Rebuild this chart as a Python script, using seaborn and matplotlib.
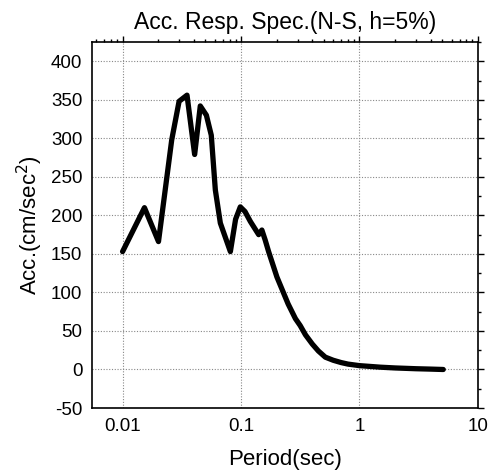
import numpy as np
import pandas as pd
import seaborn as sns
import matplotlib
matplotlib.use('Agg')
import matplotlib.pyplot as plt
from matplotlib.ticker import LogLocator, MultipleLocator, NullFormatter, FixedLocator, FixedFormatter

# period (sec) and spectral acceleration (cm/sec^2)
period = [0.010, 0.0153, 0.0201, 0.0260, 0.0300, 0.0350, 0.0406, 0.0453, 0.0510,
          0.0561, 0.0607, 0.0669, 0.0813, 0.0900, 0.0986, 0.1080, 0.120, 0.141,
          0.150, 0.160, 0.171, 0.201, 0.250, 0.288, 0.316, 0.350, 0.400, 0.450,
          0.515, 0.600, 0.700, 0.800, 1.00, 1.50, 2.00, 3.00, 4.00, 5.10]
acc = [153, 210, 166, 298, 348, 356, 279, 342, 330,
       304, 233, 190, 153, 195, 211, 205, 192, 175,
       181, 168, 153, 120, 85, 66, 57, 45, 33, 24,
       16, 12, 9, 7, 5, 3, 2, 1, 0.5, 0]

df = pd.DataFrame({'Period': period, 'Acc': acc})

sns.set_style('white')
plt.rcParams['font.family'] = ['Liberation Sans', 'DejaVu Sans']
plt.rcParams['axes.unicode_minus'] = False
plt.rcParams['text.color'] = 'black'
plt.rcParams['axes.labelcolor'] = 'black'
plt.rcParams['xtick.color'] = 'black'
plt.rcParams['ytick.color'] = 'black'

fig = plt.figure(figsize=(4.96, 4.75), dpi=100)
ax = fig.add_axes([0.1855, 0.141, 0.778, 0.7706])

sns.lineplot(data=df, x='Period', y='Acc', ax=ax, color='black', lw=3.8,
             solid_joinstyle='round', solid_capstyle='round')

ax.set_xscale('log')
ax.set_xlim(0.00552, 10)
ax.set_ylim(-50, 425)

ax.xaxis.set_major_locator(FixedLocator([0.01, 0.1, 1, 10]))
ax.xaxis.set_major_formatter(FixedFormatter(['0.01', '0.1', '1', '10']))
ax.xaxis.set_minor_locator(LogLocator(base=10, subs=np.arange(2, 10), numticks=20))
ax.xaxis.set_minor_formatter(NullFormatter())
ax.yaxis.set_major_locator(MultipleLocator(50))
ax.yaxis.set_minor_locator(MultipleLocator(25))

ax.grid(True, which='major', color='#888888', linestyle=(0, (1, 1.5)), lw=0.8)
ax.tick_params(which='both', direction='out', top=True, right=True,
               labeltop=False, labelright=False, color='black', width=1)
ax.tick_params(which='major', length=4, labelsize=13.5, pad=3, labelcolor='black')
ax.tick_params(which='minor', length=2)
for s in ax.spines.values():
    s.set_color('black')
    s.set_linewidth(1.2)

ax.set_title('Acc. Resp. Spec.(N-S, h=5%)', fontsize=16.5, pad=9, color='black')
ax.set_xlabel('Period(sec)', fontsize=16, labelpad=10)
ax.set_ylabel('Acc.(cm/sec$^2$)', fontsize=16, labelpad=4)

fig.savefig('out.png', dpi=100)
